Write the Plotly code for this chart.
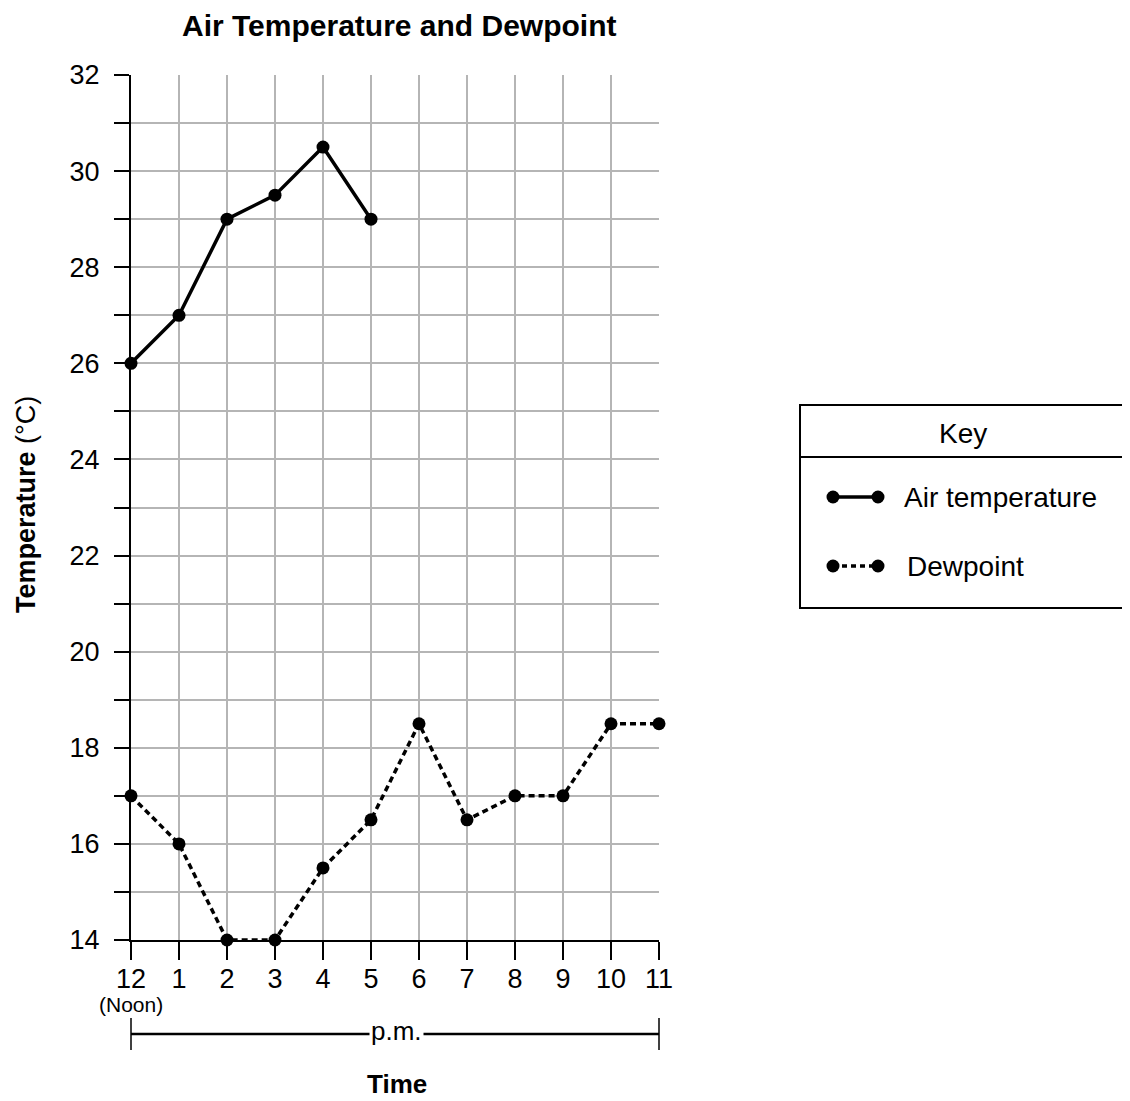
import plotly.graph_objects as go

hours = [0, 1, 2, 3, 4, 5, 6, 7, 8, 9, 10, 11]
hour_labels = ["12", "1", "2", "3", "4", "5", "6", "7", "8", "9", "10", "11"]
air_hours = [0, 1, 2, 3, 4, 5]
air_temp = [26, 27, 29, 29.5, 30.5, 29]
dew_hours = [0, 1, 2, 3, 4, 5, 6, 7, 8, 9, 10, 11]
dewpoint = [17, 16, 14, 14, 15.5, 16.5, 18.5, 16.5, 17, 17, 18.5, 18.5]
y_ticks = list(range(14, 33))
y_labels = [str(v) if v % 2 == 0 else "" for v in y_ticks]

OFF = 8  # default page body margin
W, H = 1130 - OFF, 1101 - OFF
L, R, T, B = 131, 659, 75, 940  # screen pixel positions of the plot area
FONT = "Liberation Sans, Arial, Helvetica, sans-serif"


def px(x):
    return (x - L) / (R - L)


def py(y):
    return (B - y) / (B - T)


def text(x, y, s, size, xanchor="center", angle=0, **kw):
    return dict(xref="paper", yref="paper", x=px(x), y=py(y), text=s,
                xanchor=xanchor, yanchor="middle", textangle=angle,
                showarrow=False, font=dict(size=size, color="black", family=FONT), **kw)


fig = go.Figure()
fig.add_trace(go.Scatter(x=air_hours, y=air_temp, mode="lines+markers",
                         line=dict(color="black", width=3.5),
                         marker=dict(color="black", size=13),
                         cliponaxis=False, showlegend=False))
fig.add_trace(go.Scatter(x=dew_hours, y=dewpoint, mode="lines+markers",
                         line=dict(color="black", width=3.5, dash="6px,4px"),
                         marker=dict(color="black", size=13),
                         cliponaxis=False, showlegend=False))

shapes = []
annotations = []

# Key box
kx0, kx1, ky0, ky1, ksep = 800, 1127, 405, 608, 457
shapes.append(dict(type="rect", xref="paper", yref="paper", x0=px(kx0), x1=px(kx1),
                   y0=py(ky1), y1=py(ky0), line=dict(color="black", width=2)))
shapes.append(dict(type="line", xref="paper", yref="paper", x0=px(kx0), x1=px(kx1),
                   y0=py(ksep), y1=py(ksep), line=dict(color="black", width=2)))
annotations.append(text(963, 433, "Key", 28))
for yy, dash, label, tx in [(497, "solid", "Air temperature", 902), (566, "5px,4px", "Dewpoint", 905)]:
    shapes.append(dict(type="line", xref="paper", yref="paper", x0=px(833), x1=px(878),
                       y0=py(yy), y1=py(yy), line=dict(color="black", width=3.5, dash=dash)))
    for cx in (833, 878):
        shapes.append(dict(type="circle", xref="paper", yref="paper", x0=px(cx - 6.5), x1=px(cx + 6.5),
                           y0=py(yy + 6.5), y1=py(yy - 6.5), fillcolor="black", line=dict(color="black", width=0)))
    annotations.append(text(tx, yy, label, 28, xanchor="left"))

# p.m. bracket
bracket_y = 1034
shapes.append(dict(type="line", xref="paper", yref="paper", x0=px(L), x1=px(R),
                   y0=py(bracket_y), y1=py(bracket_y), line=dict(color="black", width=2.5)))
for bx in (L, R):
    shapes.append(dict(type="line", xref="paper", yref="paper", x0=px(bx), x1=px(bx),
                       y0=py(1018), y1=py(1050), line=dict(color="black", width=1.5)))
annotations.append(text(396, 1031, "p.m.", 26, bgcolor="white", borderpad=1))
annotations.append(text(131, 1004, "(Noon)", 21))
annotations.append(text(397, 1084, "<b>Time</b>", 26))
annotations.append(text(26, 505, "<b>Temperature</b> (°C)", 27, angle=-90))
annotations.append(text(399, 26, "<b>Air Temperature and Dewpoint</b>", 30))

fig.update_layout(
    width=W, height=H,
    margin=dict(l=L - OFF, r=W - (R - OFF), t=T - OFF, b=H - (B - OFF), pad=0),
    plot_bgcolor="white", paper_bgcolor="white",
    font=dict(family=FONT, size=27, color="black"),
    shapes=shapes, annotations=annotations,
    xaxis=dict(range=[0, 11], tickvals=hours, ticktext=hour_labels,
               showgrid=True, gridcolor="#b5b5b5", gridwidth=2,
               showline=True, linecolor="black", linewidth=2,
               ticks="outside", ticklen=18, tickwidth=2, tickcolor="black",
               ticklabelstandoff=-4,
               zeroline=False, tickfont=dict(size=27)),
    yaxis=dict(range=[14, 32], tickvals=y_ticks, ticktext=y_labels,
               showgrid=True, gridcolor="#b5b5b5", gridwidth=2,
               showline=True, linecolor="black", linewidth=2,
               ticks="outside", ticklen=15, tickwidth=2, tickcolor="black",
               ticklabelstandoff=9,
               zeroline=False, tickfont=dict(size=27)),
)

fig.write_html("out.html")
